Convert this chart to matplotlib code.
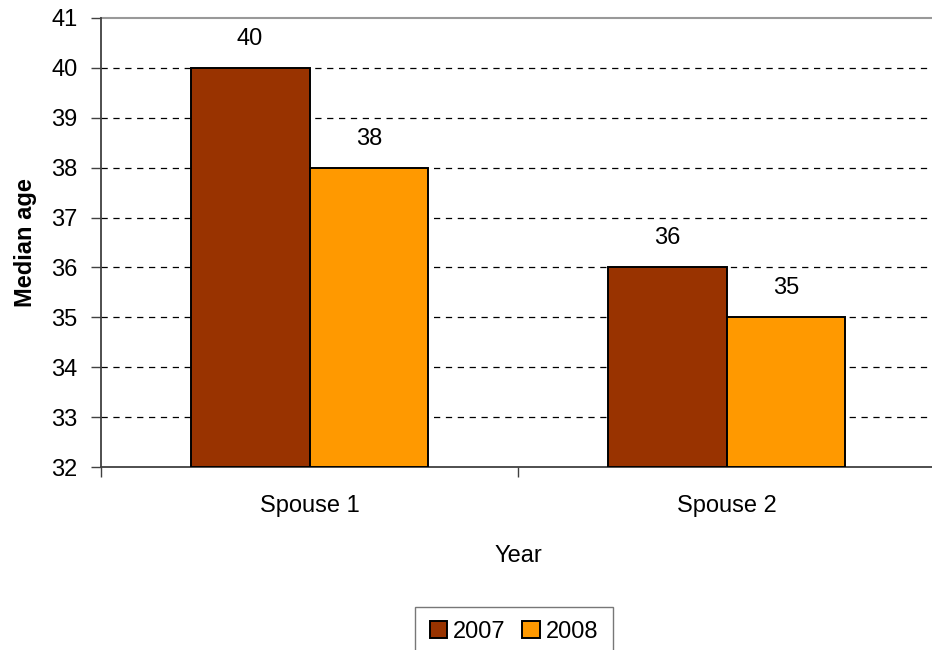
import matplotlib
matplotlib.use("Agg")
import matplotlib.pyplot as plt
import numpy as np

categories = ["Spouse 1", "Spouse 2"]
series_names = ["2007", "2008"]
values_2007 = [40, 36]
values_2008 = [38, 35]
colors = ["#993300", "#FF9900"]
yticks = list(range(32, 42))

plt.rcParams['font.family'] = ['Liberation Sans', 'DejaVu Sans']
FS = 17

fig = plt.figure(figsize=(9.32, 6.5), dpi=100)
ax = fig.add_axes([101/932, 183/650, 834/932, 449/650])

x = np.arange(len(categories))
w = 0.285
for i, (vals, name, c) in enumerate(zip([values_2007, values_2008], series_names, colors)):
    offs = (i - 0.5) * w
    ax.bar(x + offs, [v - 32 for v in vals], width=w, bottom=32, color=c,
           edgecolor="black", linewidth=1.4, label=name, zorder=3)
    for xi, v in zip(x + offs, vals):
        ax.annotate(str(v), (xi, v), xytext=(0, 13), textcoords="offset points",
                    ha="center", va="bottom", fontsize=FS)

ax.set_xlim(-0.5, 1.5)
ax.set_ylim(32, 41)
ax.set_yticks(yticks)
ax.set_yticklabels([str(t) for t in yticks], fontsize=FS)
for t in yticks[1:-1]:
    ax.axhline(t, color="black", linestyle=(0, (5, 4.5)), linewidth=0.9, zorder=1)
ax.axhline(41, color="#999999", linewidth=1.5, zorder=1, clip_on=False)

ax.set_xticks([-0.5, 0.5, 1.5])
ax.set_xticklabels([])
ax.set_xticks(x, minor=True)
ax.set_xticklabels(categories, minor=True, fontsize=FS)
ax.tick_params(axis="x", which="minor", length=0, pad=20)
ax.tick_params(axis="x", which="major", length=7, color="#404040", width=1)
ax.tick_params(axis="y", length=7, color="#404040", width=1, pad=10)

for s in ["top", "right"]:
    ax.spines[s].set_visible(False)
for s in ["left", "bottom"]:
    ax.spines[s].set_color("#404040")
    ax.spines[s].set_linewidth(1.3)

ax.set_xlabel("Year", fontsize=FS, labelpad=20)
ax.set_ylabel("Median age", fontsize=FS, fontweight="bold", labelpad=10)

leg = fig.legend(loc="center", bbox_to_anchor=(514/932, (650-632)/650), ncol=2,
                 fontsize=FS, frameon=True, fancybox=False, edgecolor="#555555",
                 handlelength=0.75, handleheight=0.75, handletextpad=0.25,
                 columnspacing=0.7, borderpad=0.6)
leg.get_frame().set_linewidth(1.0)

fig.savefig("out.png", dpi=100)
